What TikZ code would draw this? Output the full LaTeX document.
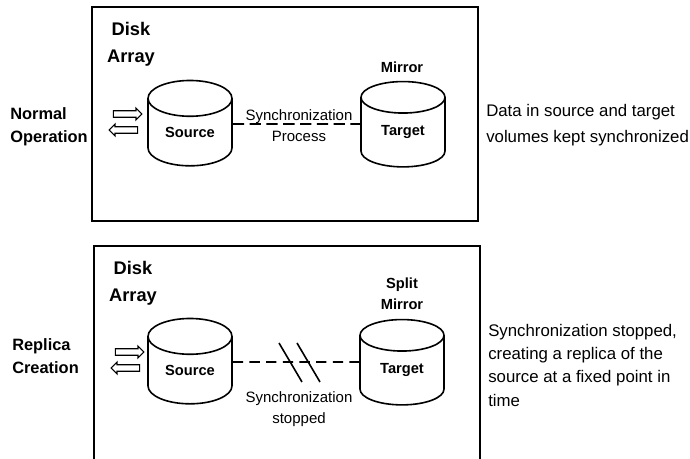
\documentclass[tikz,border=0pt]{standalone}
\usepackage{fontspec}
\setmainfont{Liberation Sans}
\usetikzlibrary{shapes.geometric,shapes.arrows}

\tikzset{
    panel/.style={line width=1.5pt,line cap=rect},
    disk/.style={cylinder,shape border rotate=90,draw,line width=1.2pt,aspect=0.72,
        minimum width=63pt,minimum height=64pt,inner sep=0pt,
        font=\fontsize{11}{13}\selectfont\bfseries},
    flowarrow/.style={single arrow,draw,line width=0.8pt,minimum height=21.5pt,minimum width=9pt,
        single arrow head extend=2pt,single arrow head indent=0pt,inner xsep=0pt,inner ysep=2pt},
    link/.style={line width=1.4pt,dash pattern=on 8.5pt off 4.1pt},
    brokenlink/.style={line width=1.4pt,dash pattern=on 7.75pt off 4.75pt},
    slash/.style={line width=1.2pt},
    sidelabel/.style={align=left,anchor=west,inner sep=0pt,
        font=\fontsize{12.3}{17.25}\selectfont\bfseries},
    arraylabel/.style={align=center,inner sep=0pt,font=\fontsize{13.7}{20}\selectfont\bfseries},
    mirrorlabel/.style={align=center,inner sep=0pt,font=\fontsize{11}{15.75}\selectfont\bfseries},
    linklabel/.style={align=center,inner sep=0pt,font=\fontsize{11.25}{15.75}\selectfont},
}

\begin{document}
\begin{tikzpicture}[x=0.75pt,y=-0.75pt]
    \useasboundingbox (0,0) rectangle (690,459);

    % Draw the two panels
    \draw[panel] (92,7) rectangle (478,221);
    \draw[panel] (94,459) -- (94,246) -- (480,246) -- (480,459);

    % Normal operation
    \node[sidelabel] (normal) at (10,127) {Normal\\Operation};
    \node[arraylabel] (arrayA) at (131,44) {Disk\\Array};
    \node[mirrorlabel] (mirror) at (402,67) {Mirror};
    \node[disk] (sourceA) at (190,132.5) {Source};
    \node[disk] (targetA) at (403,132.5) {Target};
    \node[flowarrow] (inA) at (126,114) {};
    \node[flowarrow,shape border rotate=180] (outA) at (125,130) {};
    \draw[link] ([yshift=6.4pt]sourceA.east) -- ([yshift=6.4pt]targetA.west);
    \node[linklabel] (syncA) at (299,126) {Synchronization\\Process};
    \node[align=left,anchor=west,inner sep=0pt,font=\fontsize{12.6}{20}\selectfont] (noteA) at (486,125)
        {Data in source and target\\volumes kept synchronized};

    % Replica creation
    \node[sidelabel] (replica) at (12,356) {Replica\\Creation};
    \node[arraylabel] (arrayB) at (133,283) {Disk\\Array};
    \node[mirrorlabel] (split) at (402,294) {Split\\Mirror};
    \node[disk] (sourceB) at (190,370.5) {Source};
    \node[disk] (targetB) at (402,370.5) {Target};
    \node[flowarrow] (inB) at (128,352) {};
    \node[flowarrow,shape border rotate=180] (outB) at (127,368) {};
    \draw[brokenlink] ([yshift=6.4pt]sourceB.east) -- ([yshift=6.4pt]targetB.west);
    \coordinate (breakA1) at (279,343);
    \coordinate (breakA2) at (302,382);
    \coordinate (breakB1) at (297,343);
    \coordinate (breakB2) at (320,382);
    \draw[slash] (breakA1) -- (breakA2);
    \draw[slash] (breakB1) -- (breakB2);
    \node[linklabel] (syncB) at (299,409) {Synchronization\\stopped};
    \node[align=left,anchor=west,inner sep=0pt,font=\fontsize{12.6}{17.5}\selectfont] (noteB) at (488,365)
        {Synchronization stopped,\\creating a replica of the\\source at a fixed point in\\time};
\end{tikzpicture}
\end{document}
